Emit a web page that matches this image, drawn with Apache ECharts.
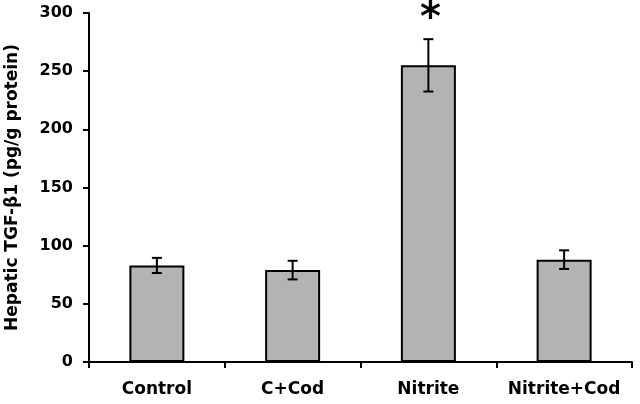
<!DOCTYPE html>
<html>
<head>
<meta charset="utf-8">
<script src="https://cdn.jsdelivr.net/npm/echarts@6/dist/echarts.min.js"></script>
<style>
  html, body { margin: 0; padding: 0; background: #fff; }
  #chart { width: 640px; height: 404px; }
</style>
</head>
<body>
<div id="chart"></div>
<script>
// values
const groups = ['Control', 'C+Cod', 'Nitrite', 'Nitrite+Cod'];
const means = [83, 79, 255, 88];
const errors = [6.5, 8, 22.5, 8];
const sigMarks = ['', '', '*', ''];
const yTicks = [0, 50, 100, 150, 200, 250, 300];

const chart = echarts.init(document.getElementById('chart'));

const errData = means.map((m, i) => [i, m - errors[i], m + errors[i]]);

const option = {
  animation: false,
  textStyle: { fontFamily: 'DejaVu Sans' },
  grid: { left: 89, right: 8, top: 13, bottom: 42, containLabel: false, outerBoundsMode: 'none' },
  xAxis: {
    type: 'category',
    data: groups,
    axisLine: { lineStyle: { color: '#000', width: 2 } },
    axisTick: { show: true, interval: 0, length: 6, lineStyle: { color: '#000', width: 2 } },
    axisLabel: { interval: 0, color: '#000', fontWeight: 'bold', fontSize: 17, margin: 19 }
  },
  yAxis: {
    type: 'value',
    min: yTicks[0],
    max: yTicks[yTicks.length - 1],
    interval: 50,
    name: 'Hepatic TGF-β1 (pg/g protein)',
    nameLocation: 'middle',
    nameGap: 68,
    nameTextStyle: { color: '#000', fontWeight: 'bold', fontSize: 17 },
    splitLine: { show: false },
    axisLine: { show: true, lineStyle: { color: '#000', width: 2 } },
    axisTick: { show: true, length: 6, lineStyle: { color: '#000', width: 2 } },
    axisLabel: { color: '#000', fontWeight: 'bold', fontSize: 16, margin: 16 }
  },
  series: [
    {
      type: 'bar',
      data: means,
      barWidth: 55,
      itemStyle: { color: '#b3b3b3', borderColor: '#000', borderWidth: 2 }
    },
    {
      type: 'custom',
      data: errData,
      z: 10,
      renderItem: (params, api) => {
        const x = api.value(0);
        const lo = api.coord([x, api.value(1)]);
        const hi = api.coord([x, api.value(2)]);
        const cap = 5;
        const style = { stroke: '#000', lineWidth: 2 };
        const children = [
          { type: 'line', shape: { x1: lo[0], y1: lo[1], x2: hi[0], y2: hi[1] }, style },
          { type: 'line', shape: { x1: hi[0] - cap, y1: hi[1], x2: hi[0] + cap, y2: hi[1] }, style },
          { type: 'line', shape: { x1: lo[0] - cap, y1: lo[1], x2: lo[0] + cap, y2: lo[1] }, style }
        ];
        const mark = sigMarks[params.dataIndex];
        if (mark) {
          children.push({
            type: 'text',
            style: {
              text: mark, x: hi[0] + 2, y: hi[1],
              fill: '#000', fontSize: 40, fontWeight: 'bold',
              fontFamily: 'DejaVu Sans',
              align: 'center', verticalAlign: 'bottom'
            }
          });
        }
        return { type: 'group', children };
      }
    }
  ]
};

chart.setOption(option);
</script>
</body>
</html>
